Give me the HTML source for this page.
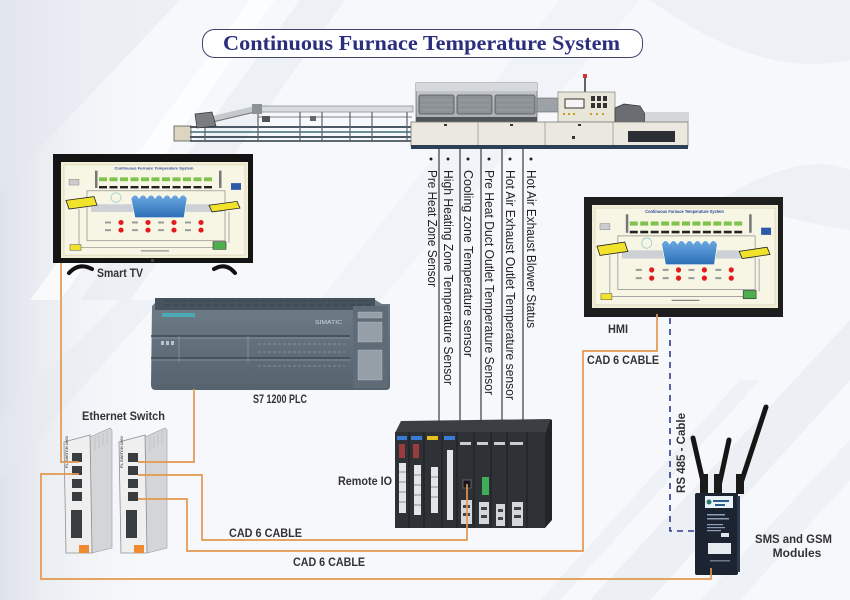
<!DOCTYPE html>
<html><head><meta charset="utf-8"><style>
html,body{margin:0;padding:0;background:#f6f8fb;}
svg{display:block;}
</style></head><body>
<svg width="850" height="600" viewBox="0 0 850 600" xmlns="http://www.w3.org/2000/svg">
<defs>
<linearGradient id="lg1" x1="0" y1="0" x2="1" y2="0"><stop offset="0" stop-color="#dfe3ea"/><stop offset="1" stop-color="#f6f8fb" stop-opacity="0"/></linearGradient>
<linearGradient id="hood" x1="0" y1="0" x2="0" y2="1"><stop offset="0" stop-color="#c9cdd1"/><stop offset="1" stop-color="#a9aeb3"/></linearGradient>
<linearGradient id="plc" x1="0" y1="0" x2="0" y2="1"><stop offset="0" stop-color="#6f7d89"/><stop offset="1" stop-color="#56636f"/></linearGradient>
<linearGradient id="blu" x1="0" y1="0" x2="0" y2="1"><stop offset="0" stop-color="#6aa8e0"/><stop offset="1" stop-color="#2d6fb8"/></linearGradient>
<symbol id="scr" viewBox="0 0 187 100" preserveAspectRatio="none">
 <rect width="187" height="100" fill="#f1eed6"/>
 <rect x="3" y="3" width="181" height="94" fill="#f7f5e4" stroke="#d3ceb2" stroke-width="0.6"/>
 <text x="93" y="8" font-size="4" fill="#2c4a9a" text-anchor="middle" font-family="Liberation Sans, sans-serif" font-weight="bold">Continuous Furnace Temperature System</text>
 <g fill="#7ec34b">
  <rect x="38" y="16" width="8" height="4"/><rect x="48.5" y="16" width="8" height="4"/><rect x="59" y="16" width="8" height="4"/><rect x="69.5" y="16" width="8" height="4"/><rect x="80" y="16" width="8" height="4"/><rect x="90.5" y="16" width="8" height="4"/><rect x="101" y="16" width="8" height="4"/><rect x="111.5" y="16" width="8" height="4"/><rect x="122" y="16" width="8" height="4"/><rect x="132.5" y="16" width="8" height="4"/><rect x="143" y="16" width="8" height="4"/>
 </g>
 <g fill="#222">
  <rect x="38" y="25" width="8" height="2.5"/><rect x="48.5" y="25" width="8" height="2.5"/><rect x="59" y="25" width="8" height="2.5"/><rect x="69.5" y="25" width="8" height="2.5"/><rect x="80" y="25" width="8" height="2.5"/><rect x="90.5" y="25" width="8" height="2.5"/><rect x="101" y="25" width="8" height="2.5"/><rect x="111.5" y="25" width="8" height="2.5"/><rect x="122" y="25" width="8" height="2.5"/><rect x="132.5" y="25" width="8" height="2.5"/><rect x="143" y="25" width="8" height="2.5"/>
 </g>
 <rect x="34" y="9" width="2.5" height="18" fill="#777"/><rect x="158" y="9" width="2.5" height="18" fill="#777"/>
 <rect x="26" y="30" width="138" height="52" fill="none" stroke="#8a8a8a" stroke-width="0.7"/>
 <rect x="30" y="44" width="132" height="8" fill="#cdd1d6"/>
 <path d="M70,38 Q74,31 78,38 Q82,31 86,38 Q90,31 94,38 Q98,31 102,38 Q106,31 110,38 Q114,31 118,38 Q122,31 126,38 L123,58 L74,58 Z" fill="url(#blu)" stroke="#fff" stroke-width="0.6"/>
 <circle cx="55" cy="37" r="5" fill="none" stroke="#9cc" stroke-width="0.8"/>
 <polygon points="5,40 33,36 36,45 8,49" fill="#f1e22c" stroke="#222" stroke-width="0.8"/>
 <polygon points="148,45 176,41 179,48 151,52" fill="#f1e22c" stroke="#222" stroke-width="0.8"/>
 <rect x="8" y="18" width="10" height="6" fill="#ccc" stroke="#777" stroke-width="0.4"/>
 <rect x="170" y="22" width="10" height="7" fill="#2c5aa8"/>
 <g fill="#e21c1c"><circle cx="60" cy="63" r="2.6"/><circle cx="87" cy="63" r="2.6"/><circle cx="113" cy="63" r="2.6"/><circle cx="140" cy="63" r="2.6"/><circle cx="60" cy="71" r="2.6"/><circle cx="87" cy="71" r="2.6"/><circle cx="113" cy="71" r="2.6"/><circle cx="140" cy="71" r="2.6"/></g>
 <g fill="#9a9a9a"><rect x="44" y="62" width="6" height="2"/><rect x="71" y="62" width="6" height="2"/><rect x="97" y="62" width="6" height="2"/><rect x="124" y="62" width="6" height="2"/><rect x="44" y="70" width="6" height="2"/><rect x="71" y="70" width="6" height="2"/><rect x="97" y="70" width="6" height="2"/><rect x="124" y="70" width="6" height="2"/></g>
 <path d="M18,49 V89 H152 M168,52 V84" fill="none" stroke="#8a8a8a" stroke-width="0.7"/>
 <rect x="9" y="86" width="11" height="6" fill="#f1e22c" stroke="#555" stroke-width="0.5"/>
 <rect x="152" y="83" width="13" height="8" fill="#4cae4c" stroke="#333" stroke-width="0.6"/>
 <rect x="80" y="92" width="28" height="1.2" fill="#888"/>
</symbol>
</defs>

<!-- background -->
<rect width="850" height="600" fill="#f6f8fb"/>
<rect x="0" y="0" width="160" height="600" fill="url(#lg1)"/>
<polygon points="0,0 180,0 0,190" fill="#e4e8ee" opacity="0.55"/>
<polygon points="300,0 345,0 130,300 80,300" fill="#e3e7ee" opacity="0.5"/>
<polygon points="250,0 275,0 60,300 30,300" fill="#ffffff" opacity="0.7"/>
<polygon points="560,0 640,0 380,300 320,300" fill="#e6eaf0" opacity="0.35"/>
<polygon points="0,420 120,300 160,300 0,480" fill="#e5e9ef" opacity="0.5"/>
<polygon points="590,600 650,600 850,380 850,320" fill="#e2e7ee" opacity="0.5"/>
<polygon points="700,600 740,600 850,480 850,440" fill="#e6eaf0" opacity="0.5"/>
<path d="M650,0 Q760,80 850,60 L850,0 Z" fill="#e7ebf1" opacity="0.6"/>
<path d="M720,200 Q800,150 850,170 L850,230 Q790,220 720,200 Z" fill="#e4e8ee" opacity="0.5"/>
<polygon points="540,600 560,600 760,380 740,380" fill="#e4e8ef" opacity="0.4"/>

<!-- title -->
<rect x="202.5" y="29.5" width="440" height="28" rx="12" fill="#ffffff" stroke="#40456e" stroke-width="1"/>
<text x="223" y="50" font-family="'Liberation Serif', serif" font-weight="bold" font-size="21" fill="#2a2e7c" textLength="397" lengthAdjust="spacingAndGlyphs">Continuous Furnace Temperature System</text>

<!-- furnace: left conveyor -->
<g>
 <rect x="174" y="126" width="17" height="15" fill="#ddd5bf" stroke="#555" stroke-width="0.8"/>
 <line x1="190" y1="127" x2="412" y2="127" stroke="#4b5865" stroke-width="2"/>
 <line x1="190" y1="132" x2="412" y2="132" stroke="#3f6d74" stroke-width="1.5"/>
 <line x1="190" y1="137" x2="412" y2="137" stroke="#4b5865" stroke-width="2"/>
 <line x1="190" y1="141" x2="412" y2="141" stroke="#2f3a45" stroke-width="1.5"/>
 <line x1="200" y1="122" x2="255" y2="109" stroke="#c5c9cc" stroke-width="6"/>
 <line x1="200" y1="125" x2="255" y2="112" stroke="#6b7177" stroke-width="1"/>
 <rect x="253" y="106" width="160" height="6" fill="#d9dcde" stroke="#8a9096" stroke-width="0.8"/>
 <line x1="258" y1="117" x2="412" y2="117" stroke="#7a8288" stroke-width="1"/>
 <g stroke="#5c646b" stroke-width="1.2">
  <line x1="205" y1="120" x2="205" y2="142"/><line x1="258" y1="112" x2="258" y2="142"/><line x1="300" y1="112" x2="300" y2="142"/><line x1="322" y1="112" x2="322" y2="142"/><line x1="350" y1="112" x2="350" y2="142"/><line x1="372" y1="112" x2="372" y2="142"/><line x1="407" y1="112" x2="407" y2="142"/>
 </g>
 <path d="M195,114 L212,112 L216,126 L197,128 Z" fill="#7b7d80" stroke="#333" stroke-width="0.7"/>
 <rect x="252" y="104" width="10" height="10" fill="#8d9296"/>
 <rect x="262" y="116" width="8" height="6" fill="#555"/>
 <rect x="310" y="116" width="6" height="5" fill="#666"/>
</g>
<!-- furnace: hood -->
<rect x="416" y="83" width="121" height="38" fill="url(#hood)" stroke="#6c7075" stroke-width="0.8"/>
<rect x="416" y="83" width="121" height="8" fill="#d6d9dc"/>
<g fill="#8c9196" stroke="#4e5358" stroke-width="0.8">
 <rect x="419" y="95" width="35" height="19" rx="2"/><rect x="457" y="95" width="35" height="19" rx="2"/><rect x="495" y="95" width="40" height="19" rx="2"/>
</g>
<g stroke="#a6abb0" stroke-width="0.6">
 <line x1="421" y1="100" x2="452" y2="100"/><line x1="421" y1="105" x2="452" y2="105"/><line x1="421" y1="110" x2="452" y2="110"/>
 <line x1="459" y1="100" x2="490" y2="100"/><line x1="459" y1="105" x2="490" y2="105"/><line x1="459" y1="110" x2="490" y2="110"/>
 <line x1="497" y1="100" x2="533" y2="100"/><line x1="497" y1="105" x2="533" y2="105"/><line x1="497" y1="110" x2="533" y2="110"/>
</g>
<rect x="416" y="117" width="121" height="5" fill="#50555a"/>
<rect x="537" y="98" width="21" height="14" fill="#9ca2a7" stroke="#666" stroke-width="0.6"/>
<!-- control cabinet -->
<line x1="585" y1="74" x2="585" y2="92" stroke="#333" stroke-width="1.5"/>
<rect x="583" y="74" width="4" height="4" fill="#c33"/>
<rect x="558" y="92" width="57" height="30" fill="#e8e6d8" stroke="#8e8e86" stroke-width="0.8"/>
<rect x="565" y="99" width="19" height="9" fill="#f5f5f5" stroke="#333" stroke-width="1"/>
<g fill="#333"><rect x="591" y="96" width="4" height="5"/><rect x="597" y="96" width="4" height="5"/><rect x="603" y="96" width="4" height="5"/><rect x="591" y="103" width="4" height="5"/><rect x="597" y="103" width="4" height="5"/><rect x="603" y="103" width="4" height="5"/></g>
<g fill="#c8a020"><rect x="563" y="113" width="2" height="2"/><rect x="568" y="113" width="2" height="2"/><rect x="573" y="113" width="2" height="2"/><rect x="590" y="113" width="2" height="2"/><rect x="596" y="113" width="2" height="2"/><rect x="602" y="113" width="2" height="2"/></g>
<path d="M615,108 L624,104 L640,106 L645,114 L645,122 L615,122 Z" fill="#6a6e72" stroke="#333" stroke-width="0.7"/>
<rect x="645" y="112" width="44" height="10" fill="#d4d6d8"/>
<!-- lower cabinet -->
<rect x="411" y="122" width="277" height="24" fill="#ebe8df" stroke="#7a7a76" stroke-width="0.8"/>
<g stroke="#9a9a94" stroke-width="0.8"><line x1="478" y1="122" x2="478" y2="146"/><line x1="545" y1="122" x2="545" y2="146"/><line x1="613" y1="122" x2="613" y2="146"/></g>
<g fill="#333"><rect x="444" y="124" width="3" height="2"/><rect x="510" y="124" width="3" height="2"/><rect x="578" y="124" width="3" height="2"/><rect x="572" y="136" width="3" height="3"/></g>
<rect x="628" y="131" width="47" height="11" fill="#2b2f34"/>
<rect x="411" y="145" width="277" height="4" fill="#2c3f56"/>

<!-- sensor lines -->
<g stroke="#2a2a2a" stroke-width="1.1">
 <line x1="439" y1="149" x2="439" y2="434"/>
 <line x1="460" y1="149" x2="460" y2="432"/>
 <line x1="481" y1="149" x2="481" y2="434"/>
 <line x1="502" y1="149" x2="502" y2="428"/>
 <line x1="523" y1="149" x2="523" y2="432"/>
</g>
<g fill="#222"><circle cx="431" cy="159" r="1.5"/><circle cx="448" cy="159" r="1.5"/><circle cx="468" cy="159" r="1.5"/><circle cx="489" cy="159" r="1.5"/><circle cx="510" cy="159" r="1.5"/><circle cx="531" cy="159" r="1.5"/></g>
<g font-family="'Liberation Sans', sans-serif" font-size="12.5" fill="#222">
 <text transform="translate(428,170) rotate(90)" textLength="117" lengthAdjust="spacingAndGlyphs">Pre Heat Zone Sensor</text>
 <text transform="translate(444,170) rotate(90)" textLength="215" lengthAdjust="spacingAndGlyphs">High Heating Zone Temperature Sensor</text>
 <text transform="translate(464,170) rotate(90)" textLength="187" lengthAdjust="spacingAndGlyphs">Cooling zone Temperature sensor</text>
 <text transform="translate(485,170) rotate(90)" textLength="225" lengthAdjust="spacingAndGlyphs">Pre Heat Duct Outlet Temperature Sensor</text>
 <text transform="translate(506,170) rotate(90)" textLength="230" lengthAdjust="spacingAndGlyphs">Hot Air Exhaust Outlet Temperature sensor</text>
 <text transform="translate(527,170) rotate(90)" textLength="158" lengthAdjust="spacingAndGlyphs">Hot Air Exhaust Blower Status</text>
</g>

<!-- Smart TV -->
<rect x="53" y="154" width="200" height="109" fill="#141414"/>
<use href="#scr" x="61" y="162" width="187" height="96"/>
<rect x="151" y="259" width="3" height="3" fill="#444"/>
<path d="M69,273 Q79,262 92,269" fill="none" stroke="#111" stroke-width="4" stroke-linecap="round"/>
<path d="M214,269 Q226,262 235,273" fill="none" stroke="#111" stroke-width="4" stroke-linecap="round"/>

<!-- HMI -->
<rect x="584" y="197" width="199" height="120" fill="#1e1e1e"/>
<use href="#scr" x="592" y="205" width="186" height="103"/>

<!-- PLC -->
<path d="M152,306 L160,298 L372,298 L382,304 L390,304 L390,386 Q390,390 386,390 L156,390 Q151,390 151,385 Z" fill="url(#plc)"/>
<rect x="155" y="298" width="220" height="12" fill="#46525d"/>
<g stroke="#3a444e" stroke-width="1"><line x1="165" y1="301" x2="370" y2="301" stroke-dasharray="4 2"/><line x1="165" y1="305" x2="370" y2="305" stroke-dasharray="6 2"/></g>
<rect x="162" y="313" width="33" height="4" fill="#4aa9b3"/>
<text x="315" y="324" font-family="'Liberation Sans', sans-serif" font-size="5" fill="#cfd6dc" textLength="27" lengthAdjust="spacingAndGlyphs">SIMATIC</text>
<rect x="353" y="306" width="35" height="82" fill="#5f6c78"/>
<g stroke="#e0e5ea" stroke-opacity="0.5" fill="#fff" fill-opacity="0.35" stroke-width="0.5"><rect x="358" y="312" width="24" height="6"/><rect x="358" y="322" width="24" height="20"/><rect x="358" y="350" width="24" height="30"/></g>
<g stroke="#3e4953" stroke-width="1.4"><line x1="151" y1="336" x2="350" y2="336"/><line x1="151" y1="358" x2="350" y2="358"/></g>
<g stroke="#8796a3" stroke-width="0.8"><line x1="151" y1="338" x2="350" y2="338"/><line x1="151" y1="360" x2="350" y2="360"/><line x1="179" y1="336" x2="179" y2="362"/><line x1="248" y1="336" x2="248" y2="362"/></g>
<g fill="#b8c2cb"><rect x="161" y="341" width="3" height="4"/><rect x="166" y="341" width="3" height="4"/><rect x="171" y="341" width="3" height="4"/></g>
<g stroke="#a9b4be" stroke-width="0.6" stroke-dasharray="3 2"><line x1="258" y1="344" x2="345" y2="344"/><line x1="258" y1="352" x2="345" y2="352"/><line x1="258" y1="366" x2="345" y2="366"/></g>

<!-- Ethernet switches -->
<g>
 <path d="M90,437 L110,428 L112,430 L112,548 L92,553 Z" fill="#d3d5d7" stroke="#9a9da0" stroke-width="0.6"/>
 <path d="M64,442 L90,435 L92,553 L66,553 Z" fill="#efefef" stroke="#8d9094" stroke-width="0.8"/>
 <g stroke="#b8bbbe" stroke-width="0.6"><line x1="95" y1="437" x2="95" y2="450"/><line x1="99" y1="435" x2="99" y2="448"/><line x1="103" y1="433" x2="103" y2="446"/><line x1="107" y1="431" x2="107" y2="444"/></g>
 <g fill="#3a3d40"><rect x="72" y="453" width="10" height="9"/><rect x="72" y="466" width="10" height="9"/><rect x="72" y="479" width="10" height="9"/><rect x="72" y="492" width="10" height="9"/><rect x="71" y="510" width="11" height="28"/></g>
 <rect x="79" y="545" width="10" height="8" fill="#f08a2e"/>
 <text transform="translate(68,468) rotate(-90)" font-family="'Liberation Sans', sans-serif" font-size="4" font-weight="bold" fill="#555">FL SWITCH 1000</text>
</g>
<g>
 <path d="M145,437 L165,428 L167,430 L167,548 L147,553 Z" fill="#d3d5d7" stroke="#9a9da0" stroke-width="0.6"/>
 <path d="M119,442 L145,435 L147,553 L121,553 Z" fill="#efefef" stroke="#8d9094" stroke-width="0.8"/>
 <g stroke="#b8bbbe" stroke-width="0.6"><line x1="150" y1="437" x2="150" y2="450"/><line x1="154" y1="435" x2="154" y2="448"/><line x1="158" y1="433" x2="158" y2="446"/><line x1="162" y1="431" x2="162" y2="444"/></g>
 <g fill="#3a3d40"><rect x="128" y="453" width="10" height="9"/><rect x="128" y="466" width="10" height="9"/><rect x="128" y="479" width="10" height="9"/><rect x="128" y="492" width="10" height="9"/><rect x="126" y="510" width="11" height="28"/></g>
 <rect x="134" y="545" width="10" height="8" fill="#f08a2e"/>
 <text transform="translate(123,468) rotate(-90)" font-family="'Liberation Sans', sans-serif" font-size="4" font-weight="bold" fill="#555">FL SWITCH 1000</text>
</g>

<!-- Remote IO -->
<g>
 <polygon points="401,421 550,419 545,433 395,433" fill="#3b3f44"/>
 <rect x="395" y="432" width="150" height="96" fill="#2e3236"/>
 <polygon points="545,433 550,419 552,420 552,520 545,528" fill="#222528"/>
 <g stroke="#1b1d20" stroke-width="1"><line x1="409" y1="432" x2="409" y2="528"/><line x1="424" y1="432" x2="424" y2="528"/><line x1="442" y1="432" x2="442" y2="528"/><line x1="457" y1="432" x2="457" y2="528"/><line x1="474" y1="432" x2="474" y2="528"/><line x1="491" y1="432" x2="491" y2="528"/><line x1="507" y1="432" x2="507" y2="528"/><line x1="527" y1="432" x2="527" y2="528"/></g>
 <rect x="397" y="436" width="10" height="4" fill="#3a7bd5"/><rect x="411" y="436" width="11" height="4" fill="#3a7bd5"/><rect x="427" y="436" width="11" height="4" fill="#e7c11f"/><rect x="444" y="436" width="11" height="4" fill="#3a7bd5"/>
 <g fill="#c9cdd1"><rect x="460" y="442" width="11" height="3"/><rect x="477" y="442" width="11" height="3"/><rect x="494" y="442" width="11" height="3"/><rect x="510" y="442" width="13" height="3"/></g>
 <g fill="#c84040"><rect x="399" y="444" width="6" height="14" opacity="0.7"/><rect x="413" y="444" width="6" height="14" opacity="0.7"/></g>
 <g fill="#e3e5e7"><rect x="399" y="463" width="7" height="50"/><rect x="414" y="465" width="7" height="50"/><rect x="431" y="467" width="7" height="46"/><rect x="447" y="450" width="6" height="70"/></g>
 <g stroke="#555" stroke-width="0.6"><line x1="399" y1="472" x2="406" y2="472"/><line x1="399" y1="482" x2="406" y2="482"/><line x1="399" y1="492" x2="406" y2="492"/><line x1="399" y1="502" x2="406" y2="502"/><line x1="414" y1="475" x2="421" y2="475"/><line x1="414" y1="485" x2="421" y2="485"/><line x1="414" y1="495" x2="421" y2="495"/><line x1="414" y1="505" x2="421" y2="505"/><line x1="431" y1="477" x2="438" y2="477"/><line x1="431" y1="487" x2="438" y2="487"/><line x1="431" y1="497" x2="438" y2="497"/></g>
 <rect x="463" y="480" width="8" height="8" fill="#15171a" stroke="#888" stroke-width="0.6"/>
 <rect x="482" y="477" width="7" height="18" fill="#3fae5a"/>
 <g fill="#d5d8db"><rect x="461" y="500" width="11" height="24"/><rect x="479" y="502" width="10" height="22"/><rect x="496" y="504" width="9" height="22"/><rect x="512" y="502" width="11" height="24"/></g>
 <g fill="#444"><rect x="463" y="505" width="7" height="3"/><rect x="463" y="513" width="7" height="3"/><rect x="481" y="507" width="6" height="3"/><rect x="481" y="515" width="6" height="3"/><rect x="498" y="509" width="5" height="3"/><rect x="498" y="517" width="5" height="3"/><rect x="514" y="507" width="7" height="3"/><rect x="514" y="515" width="7" height="3"/></g>
</g>

<!-- GSM module -->
<g stroke-linecap="round">
 <line x1="693" y1="438" x2="704" y2="486" stroke="#151515" stroke-width="5"/>
 <line x1="729" y1="440" x2="719" y2="486" stroke="#151515" stroke-width="5"/>
 <line x1="766" y1="407" x2="740" y2="486" stroke="#151515" stroke-width="5"/>
 <rect x="700" y="474" width="8" height="20" fill="#1a1a1a"/>
 <rect x="714" y="474" width="8" height="20" fill="#1a1a1a"/>
 <rect x="736" y="474" width="8" height="20" fill="#1a1a1a"/>
</g>
<rect x="695" y="493" width="43" height="82" rx="2" fill="#1c2431"/>
<rect x="737" y="496" width="3" height="76" fill="#2e3a4c"/>
<rect x="705" y="496" width="28" height="12" fill="#e9f2f6"/>
<circle cx="709" cy="502" r="2.5" fill="#2b7a6d"/>
<rect x="713" y="500" width="16" height="2" fill="#2b5c8a"/>
<rect x="715" y="504" width="10" height="2" fill="#2b5c8a"/>
<g fill="#8aa0b8"><rect x="707" y="514" width="18" height="1.5"/><rect x="707" y="518" width="22" height="1.5"/><rect x="707" y="524" width="16" height="1.2"/><rect x="707" y="527" width="18" height="1.2"/><rect x="707" y="530" width="14" height="1.2"/></g>
<rect x="721" y="533" width="8" height="4" fill="#dde4ea"/>
<rect x="708" y="543" width="23" height="11" fill="#e6ebef"/>
<rect x="710" y="560" width="20" height="1.5" fill="#6a7a8c"/>

<!-- orange cables -->
<g fill="none" stroke="#e3984f" stroke-width="1.7">
 <path d="M61,263 V462 H79"/>
 <path d="M194,389 V462 H138"/>
 <path d="M79,474 H41 V579 H711 V568"/>
 <path d="M138,475 H202 V540 H467 V484"/>
 <path d="M138,499 H187 V551 H583 V351 H657 V314"/>
</g>
<!-- RS485 dashed -->
<path d="M670,318 V531 H697" fill="none" stroke="#2c3c8e" stroke-width="1.6" stroke-dasharray="6 5"/>

<!-- labels -->
<g font-family="'Liberation Sans', sans-serif" font-weight="bold" font-size="12" fill="#333">
 <text x="97" y="277" textLength="46" lengthAdjust="spacingAndGlyphs">Smart TV</text>
 <text x="253" y="403" textLength="54" lengthAdjust="spacingAndGlyphs">S7 1200 PLC</text>
 <text x="82" y="420" textLength="83" lengthAdjust="spacingAndGlyphs">Ethernet Switch</text>
 <text x="338" y="485" textLength="54" lengthAdjust="spacingAndGlyphs">Remote IO</text>
 <text x="608" y="333" textLength="20" lengthAdjust="spacingAndGlyphs">HMI</text>
 <text x="587" y="364" textLength="72" lengthAdjust="spacingAndGlyphs">CAD 6 CABLE</text>
 <text x="229" y="537" textLength="73" lengthAdjust="spacingAndGlyphs">CAD 6 CABLE</text>
 <text x="293" y="566" textLength="72" lengthAdjust="spacingAndGlyphs">CAD 6 CABLE</text>
 <text x="755" y="543" textLength="77" lengthAdjust="spacingAndGlyphs">SMS and GSM</text>
 <text x="797" y="557" text-anchor="middle">Modules</text>
 <text transform="translate(685,493) rotate(-90)" textLength="80" lengthAdjust="spacingAndGlyphs">RS 485 - Cable</text>
</g>
</svg>
</body></html>
